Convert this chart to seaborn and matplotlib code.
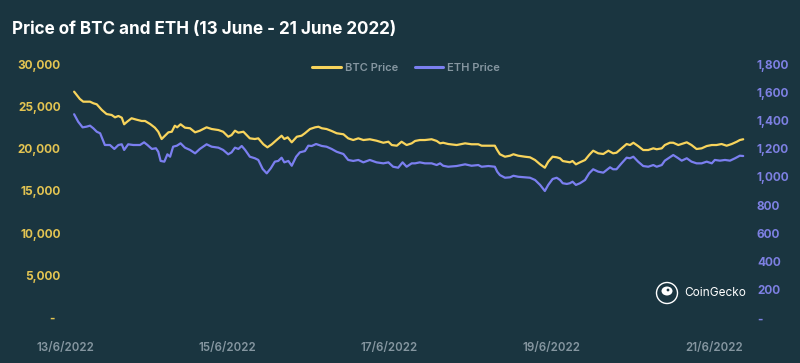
import matplotlib
matplotlib.use("Agg")
import matplotlib.pyplot as plt
import numpy as np
import pandas as pd
import seaborn as sns
from matplotlib.patches import Circle, Ellipse

# hours after 13/6/2022 00:00 and prices
btc_hours = [2.7, 4.4, 5.4, 7.4, 8.4, 9.4, 10.9, 12.3, 13.8, 14.8, 15.8, 16.8, 17.5, 18.4, 19.7,
             21.2, 22.7, 23.7, 25.2, 26.6, 27.6, 28.6, 29.6, 30.6, 31.6, 32.5, 33.2, 34.2, 35.5,
             37.0, 38.5, 39.9, 41.9, 43.4, 45.4, 46.8, 48.3, 49.3, 50.3, 51.3, 52.8, 54.7, 56.2,
             57.2, 58.7, 59.9, 61.2, 62.6, 64.1, 64.9, 65.9, 67.1, 68.6, 70.0, 71.0, 72.5, 74.0,
             75.0, 76.0, 77.4, 78.9, 80.4, 82.4, 83.8, 85.3, 86.8, 88.3, 90.2, 92.2, 94.2, 95.7,
             96.7, 98.2, 99.6, 101.1, 102.6, 103.6, 105.0, 106.5, 108.5, 110.0, 111.0, 111.9,
             113.4, 115.9, 118.4, 120.3, 122.3, 123.3, 125.3, 127.2, 127.9, 128.7, 130.2, 131.7,
             132.7, 134.1, 136.1, 137.6, 139.1, 140.6, 142.0, 143.0, 144.3, 145.5, 146.5, 147.3,
             148.5, 149.4, 150.2, 151.2, 152.4, 153.9, 155.1, 156.3, 157.8, 159.3, 160.8, 162.2,
             163.2, 164.7, 166.2, 167.2, 168.2, 169.6, 171.1, 172.6, 174.1, 175.1, 176.6, 177.5,
             179.0, 180.0, 181.5, 183.0, 184.0, 185.4, 186.9, 188.4, 189.9, 191.4, 192.8, 194.3,
             195.8, 197.3, 198.8, 199.7, 200.7]
btc_price = [26730, 25870, 25550, 25550, 25360, 25240, 24570, 24090, 23980, 23700, 23860, 23660,
             22880, 23190, 23590, 23420, 23270, 23270, 22910, 22480, 22000, 21140, 21530, 21930,
             22000, 22710, 22520, 22880, 22480, 22410, 21930, 22120, 22520, 22320, 22200, 22000,
             21410, 21610, 22120, 21890, 22000, 21220, 21140, 21220, 20520, 20160, 20520, 21020,
             21530, 21140, 21340, 20750, 21410, 21530, 21820, 22320, 22520, 22590, 22410, 22320,
             22090, 21820, 21700, 21220, 21020, 21220, 21020, 21110, 20940, 20700, 20820, 20430,
             20350, 20820, 20430, 20630, 20910, 21020, 21020, 21110, 20910, 20630, 20700, 20550,
             20430, 20630, 20520, 20520, 20350, 20350, 20350, 19840, 19340, 19050, 19170, 19340,
             19170, 19050, 18980, 18660, 18150, 17750, 18460, 19050, 18980, 18860, 18540, 18460,
             18390, 18540, 18150, 18390, 18660, 19250, 19760, 19450, 19370, 19760, 19450, 19520,
             20040, 20550, 20430, 20700, 20310, 19840, 19840, 20040, 19930, 20040, 20430, 20700,
             20700, 20430, 20630, 20750, 20430, 19960, 20040, 20310, 20430, 20430, 20550, 20350,
             20550, 20820, 21020, 21110]

eth_hours = [2.7, 3.9, 5.2, 6.4, 7.4, 8.4, 9.4, 10.4, 11.8, 13.3, 14.6, 15.8, 16.8, 17.5, 18.7,
             20.2, 22.2, 23.4, 24.4, 25.7, 26.9, 27.6, 28.3, 29.4, 30.3, 31.1, 32.0, 33.1, 34.2,
             35.5, 37.0, 38.5, 39.9, 41.9, 43.4, 45.4, 46.8, 48.3, 49.3, 50.3, 51.3, 52.3, 53.3,
             54.7, 56.2, 57.2, 58.5, 59.7, 60.9, 62.1, 63.1, 64.1, 64.9, 66.1, 67.1, 68.4, 69.5,
             71.0, 72.0, 73.0, 74.3, 76.0, 77.4, 78.9, 80.4, 82.4, 83.8, 85.3, 86.8, 88.3, 90.2,
             92.2, 94.2, 95.7, 97.1, 98.6, 99.9, 101.1, 102.6, 103.6, 105.0, 106.5, 108.5, 110.0,
             111.0, 111.9, 113.4, 115.9, 118.4, 120.3, 122.3, 123.3, 125.3, 127.2, 127.9, 128.7,
             130.2, 131.7, 132.7, 134.1, 136.1, 137.6, 139.1, 140.6, 142.0, 143.0, 144.3, 145.5,
             146.5, 147.3, 148.5, 149.4, 150.2, 151.2, 152.4, 153.9, 155.1, 156.3, 157.8, 159.3,
             160.3, 161.3, 162.2, 163.2, 164.7, 166.2, 167.2, 168.2, 169.6, 171.1, 172.6, 174.1,
             175.1, 176.6, 177.5, 179.0, 180.0, 181.5, 182.5, 184.0, 185.4, 186.9, 188.4, 189.9,
             191.4, 192.3, 193.8, 195.3, 196.8, 198.3, 199.7, 200.7]
eth_price = [1444, 1391, 1351, 1356, 1363, 1344, 1320, 1309, 1226, 1226, 1198, 1226, 1231, 1191,
             1231, 1226, 1226, 1245, 1226, 1198, 1203, 1178, 1113, 1108, 1160, 1143, 1214, 1221,
             1238, 1207, 1191, 1167, 1198, 1231, 1214, 1207, 1191, 1160, 1174, 1207, 1198, 1219,
             1191, 1143, 1132, 1120, 1056, 1025, 1061, 1108, 1113, 1136, 1103, 1113, 1079, 1143,
             1174, 1183, 1221, 1219, 1233, 1219, 1214, 1198, 1178, 1162, 1120, 1113, 1120, 1103,
             1120, 1103, 1096, 1103, 1072, 1065, 1103, 1072, 1096, 1096, 1103, 1096, 1096, 1084,
             1096, 1079, 1072, 1077, 1089, 1079, 1084, 1072, 1077, 1072, 1037, 1013, 994, 997,
             1008, 1001, 997, 994, 978, 943, 900, 943, 985, 994, 978, 955, 950, 955, 966, 943, 955,
             978, 1025, 1054, 1037, 1030, 1049, 1068, 1054, 1054, 1096, 1136, 1132, 1143, 1108,
             1077, 1072, 1084, 1072, 1084, 1115, 1139, 1155, 1132, 1115, 1132, 1108, 1096, 1096,
             1108, 1096, 1120, 1115, 1120, 1115, 1132, 1150, 1148]

tick_hours = [0, 48, 96, 144, 192]
tick_labels = ["13/6/2022", "15/6/2022", "17/6/2022", "19/6/2022", "21/6/2022"]
btc_ticks = [0, 5000, 10000, 15000, 20000, 25000, 30000]
eth_ticks = [0, 200, 400, 600, 800, 1000, 1200, 1400, 1600, 1800]

BG = "#1a3540"
BTC_COLOR = "#f8d45c"
ETH_COLOR = "#7b7ff0"
GREY = "#8596a0"

btc_df = pd.DataFrame({"hour": btc_hours, "price": btc_price})
eth_df = pd.DataFrame({"hour": eth_hours, "price": eth_price})

sns.set_style("dark")
plt.rcParams["font.family"] = ["Inter", "DejaVu Sans"]

W, H = 800, 363
fig = plt.figure(figsize=(W / 100, H / 100), dpi=100, facecolor=BG)
# axes placed in pixel terms: x 62..750, y 64..318 (from top)
ax = fig.add_axes([62 / W, (H - 318) / H, (750 - 62) / W, (318 - 64) / H])
ax.set_facecolor(BG)
ax2 = ax.twinx()

sns.lineplot(data=btc_df, x="hour", y="price", ax=ax, color=BTC_COLOR, linewidth=1.6,
             label="BTC Price", legend=False)
sns.lineplot(data=eth_df, x="hour", y="price", ax=ax2, color=ETH_COLOR, linewidth=1.6,
             label="ETH Price", legend=False)

ax.set_xlim((62 - 65) * 24 / 81.1, (750 - 65) * 24 / 81.1)
ax.set_ylim(0, 30000)
ax2.set_ylim(0, 1800)

ax.set_xticks(tick_hours)
ax.set_xticklabels(tick_labels, color=GREY, fontsize=8.3, fontweight="semibold")
ax.set_yticks(btc_ticks)
ax.set_yticklabels(["-  "] + [f"{v:,}" for v in btc_ticks[1:]], color="#e3c452",
                   fontsize=8.5, fontweight="bold")
ax2.set_yticks(eth_ticks)
ax2.set_yticklabels(["-"] + [f"{v:,}" for v in eth_ticks[1:]], color="#7d80e2",
                    fontsize=8.5, fontweight="bold")

ax.tick_params(axis="x", length=0, pad=17)
ax.tick_params(axis="y", length=0, pad=1)
ax2.tick_params(axis="y", length=0, pad=5)
ax.set_xlabel("")
ax.set_ylabel("")
ax2.set_ylabel("")
ax.grid(False)
ax2.grid(False)
for a in (ax, ax2):
    for s in a.spines.values():
        s.set_visible(False)

handles = ax.get_lines()[:1] + ax2.get_lines()[:1]
leg = ax.legend(handles, ["BTC Price", "ETH Price"], loc="center", bbox_to_anchor=(0.5, 0.984),
                ncol=2, frameon=False, handlelength=2.6, columnspacing=1.5, handletextpad=0.3,
                prop={"size": 8, "weight": "semibold"})
for t in leg.get_texts():
    t.set_color(GREY)
for l in leg.get_lines():
    l.set_linewidth(2.2)

fig.text(12 / W, 1 - 30 / H, "Price of BTC and ETH (13 June - 21 June 2022)", color="white",
         fontsize=12.3, fontweight="bold", va="center", ha="left")

# CoinGecko watermark
cy = 1 - 293 / H
fig.patches.append(Circle((667, H - 293), 10.5, transform=None, fill=False, edgecolor="white",
                          linewidth=1.0))
fig.patches.append(Ellipse((667, H - 291), 11, 9, transform=None, facecolor="white",
                           edgecolor="none"))
fig.patches.append(Circle((668, H - 290), 1.4, transform=None, facecolor=BG, edgecolor="none"))
fig.text(684 / W, cy, "CoinGecko", color="white", fontsize=8.5, va="center", ha="left")

fig.savefig("out.png", dpi=100, facecolor=BG)
